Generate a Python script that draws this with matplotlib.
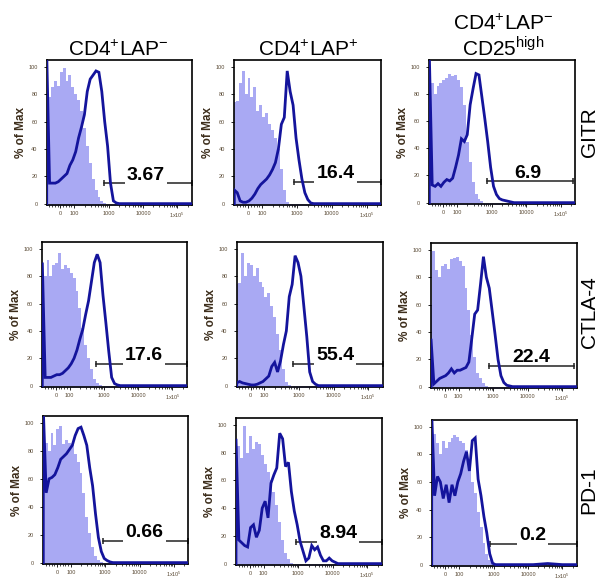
import numpy as np
import matplotlib
matplotlib.use("Agg")
import matplotlib.pyplot as plt
from matplotlib import transforms

plt.rcParams["font.family"] = ["Liberation Sans", "DejaVu Sans"]
plt.rcParams["mathtext.fontset"] = "custom"
plt.rcParams["mathtext.rm"] = "Liberation Sans"
plt.rcParams["mathtext.bf"] = "Liberation Sans:bold"

# channel centres (fluorescence, logicle-like axis)
x_bins = [-100, -79, -58, -37, -16, 5.5, 26.5, 47.6, 68.7, 89.8, 110.6, 134, 163, 198,
          240, 292, 355, 431, 523, 635, 771, 937, 1137, 1381, 1677, 2037, 2474, 3004,
          3649, 4430, 5380, 6534, 7935, 9636, 14213, 37540, 99100, 262144]

# --- GITR ---
gitr_iso_neg = [77, 78, 85, 90, 86, 96, 99, 90, 94, 85, 80, 76, 68, 55, 42, 30, 18, 10, 5, 2,
                0.5, 0, 0, 0, 0, 0, 0, 0, 0, 0, 0, 0, 0, 0, 0, 0, 0, 0]
gitr_neg = [110, 15, 15, 15, 16, 18, 20, 22, 28, 32, 38, 48, 56, 65, 82, 91, 94, 97, 96, 82,
            60, 42, 15, 2, 0.5, 0, 0, 0, 0, 0, 0, 0, 0, 0, 0, 0, 0, 0]
gitr_iso_pos = [74, 75, 88, 97, 80, 92, 78, 85, 68, 72, 63, 66, 58, 54, 48, 40, 25, 10, 1, 0,
                0, 0, 0, 0, 0, 0, 0, 0, 0, 0, 0, 0, 0, 0, 0, 0, 0, 0]
gitr_pos = [10, 8, 2, 1, 1, 2, 4, 7, 11, 14, 16, 18, 21, 25, 30, 40, 58, 63, 97, 82,
            72, 48, 32, 18, 8, 3, 0.5, 0, 0, 0, 0, 0, 0, 0, 0, 0, 0, 0]
gitr_iso_cd25 = [100, 88, 80, 86, 88, 90, 92, 95, 93, 94, 90, 85, 72, 45, 30, 15, 6, 3, 1, 0,
                 0, 0, 0, 0, 0, 0, 0, 0, 0, 0, 0, 0, 0, 0, 0, 0, 0, 0]
gitr_cd25 = [110, 13, 12, 14, 12, 15, 17, 16, 18, 26, 35, 47, 45, 50, 72, 84, 95, 94, 78, 62,
             45, 26, 12, 6, 3, 2, 1.5, 1, 0.5, 0, 0, 0, 0, 0, 0, 0, 0, 0]

# --- CTLA-4 ---
ctla4_iso_neg = [76, 80, 92, 80, 88, 90, 97, 85, 88, 86, 82, 79, 69, 57, 42, 30, 20, 12, 5, 2,
                 0.5, 0, 0, 0, 0, 0, 0, 0, 0, 0, 0, 0, 0, 0, 0, 0, 0, 0]
ctla4_neg = [90, 6, 6, 6, 7, 8, 8, 9, 11, 13, 16, 20, 26, 34, 41, 52, 62, 76, 90, 96,
             90, 66, 46, 25, 6, 1.5, 0.5, 0, 0, 0, 0, 0, 0, 0, 0, 0, 0, 0]
ctla4_iso_pos = [74, 75, 97, 80, 90, 88, 80, 86, 76, 72, 65, 68, 58, 50, 38, 26, 12, 3, 0.5, 0,
                 0, 0, 0, 0, 0, 0, 0, 0, 0, 0, 0, 0, 0, 0, 0, 0, 0, 0]
ctla4_pos = [2, 3, 2, 1.5, 1, 0.5, 0.5, 1, 2, 3, 5, 7, 14, 17, 10, 18, 30, 40, 65, 74,
             95, 90, 80, 58, 36, 10, 3, 1, 0, 0, 0, 0, 0, 0, 0, 0, 0, 0]
ctla4_iso_cd25 = [60, 99, 85, 80, 88, 90, 86, 93, 94, 95, 92, 88, 72, 56, 38, 22, 10, 6, 3, 0.5,
                  0, 0, 0, 0, 0, 0, 0, 0, 0, 0, 0, 0, 0, 0, 0, 0, 0, 0]
ctla4_cd25 = [35, 2, 4, 6, 7, 8, 10, 13, 10, 12, 12, 13, 14, 18, 35, 53, 56, 75, 95, 80,
              72, 55, 38, 20, 8, 3, 1, 0.5, 0, 0, 0, 0, 0, 0, 0, 0, 0, 0]

# --- PD-1 ---
pd1_iso_neg = [100, 86, 80, 93, 84, 96, 98, 85, 88, 86, 84, 78, 72, 64, 50, 33, 21, 11, 5, 2,
               0.5, 0, 0, 0, 0, 0, 0, 0, 0, 0, 0, 0, 0, 0, 0, 0, 0, 0]
pd1_neg = [110, 50, 60, 61, 63, 68, 74, 76, 78, 81, 84, 91, 96, 97, 91, 84, 68, 55, 35, 18,
           8, 3, 1.5, 0.5, 0, 0, 0, 0, 0, 0, 0, 0, 0, 0, 0, 0, 0, 0]
pd1_iso_pos = [90, 85, 76, 99, 80, 92, 83, 88, 86, 78, 72, 66, 60, 52, 42, 30, 17, 8, 3, 0.5,
               0, 0, 0, 0, 0, 0, 0, 0, 0, 0, 0, 0, 0, 0, 0, 0, 0, 0]
pd1_pos = [90, 17, 15, 13, 12, 26, 28, 19, 24, 40, 45, 33, 58, 64, 69, 94, 90, 70, 73, 52,
           38, 28, 16, 9, 2, 4, 13, 10, 12, 6, 2, 2, 4, 2, 0, 0, 0, 0]
pd1_iso_cd25 = [100, 95, 88, 80, 90, 85, 89, 92, 94, 93, 90, 88, 83, 72, 60, 52, 38, 27, 16, 8,
                3, 1, 0, 0, 0, 0, 0, 0, 0, 0, 0, 0, 0, 0, 0, 0, 0, 0]
pd1_cd25 = [110, 50, 64, 60, 48, 58, 45, 58, 50, 60, 66, 75, 82, 68, 90, 92, 62, 50, 35, 23,
            8, 1, 0, 0, 0, 0, 0, 0, 0, 0, 0, 0, 0, 0, 0, 0.8, 0, 0]

col_titles = [r"CD4$^{+}$LAP$^{-}$", r"CD4$^{+}$LAP$^{+}$", r"CD4$^{+}$LAP$^{-}$"]
row_labels = ["GITR", "CTLA-4", "PD-1"]

# gates: start, height, end, percentage
gate_start = [[749, 826, 756], [602, 689, 756], [849, 866, 786]]
gate_y = [[15, 16, 16], [15.9, 15.9, 15.2], [15.5, 15.7, 15.2]]
gate_end = [[262144, 262144, 226000], [262144, 262144, 226000], [262144, 262144, 262144]]
gate_pct = [["3.67", "16.4", "6.9"], ["17.6", "55.4", "22.4"], ["0.66", "8.94", "0.2"]]
gate_text_x = [[0.683, 0.688, 0.678], [0.702, 0.673, 0.686], [0.698, 0.702, 0.694]]
gate_box = [[True, True, False], [True, True, False], [True, True, True]]

fills = [[gitr_iso_neg, gitr_iso_pos, gitr_iso_cd25],
         [ctla4_iso_neg, ctla4_iso_pos, ctla4_iso_cd25],
         [pd1_iso_neg, pd1_iso_pos, pd1_iso_cd25]]
lines = [[gitr_neg, gitr_pos, gitr_cd25],
         [ctla4_neg, ctla4_pos, ctla4_cd25],
         [pd1_neg, pd1_pos, pd1_cd25]]

FILL = "#a9a9f3"
BLUE = "#14149c"
W, H = 604, 582

# panel boxes in pixels: left, top, width, height
panel_px = [[(46.7, 60, 145, 145), (234.3, 60, 147, 145), (429.3, 60, 146, 144)],
            [(42.3, 242, 144.5, 145), (236.7, 242, 146, 145), (431, 243, 145.7, 145)],
            [(43.3, 416, 145, 148), (236, 418, 145.7, 147), (431.7, 420, 145, 146)]]

x_major = [0, 100, 1000, 10000, 100000]
x_major_lab = ["0", "100", "1000", "10000", r"1x10$^{5}$"]
x_minor = [-80, -60, -40, -20, 20, 40, 60, 80, 200, 300, 400, 500, 600, 700, 800, 900,
           2000, 3000, 4000, 5000, 6000, 7000, 8000, 9000,
           20000, 30000, 40000, 50000, 60000, 70000, 80000, 90000, 200000]

fig = plt.figure(figsize=(6.04, 5.82), dpi=100)

xb = np.array(x_bins, dtype=float)
for r in range(3):
    for c in range(3):
        l, t, w, h = panel_px[r][c]
        ax = fig.add_axes([l / W, 1 - (t + h) / H, w / W, h / H])
        ax.set_xscale("symlog", linthresh=100, linscale=0.36)
        ax.set_xlim(-100, 262144)
        ax.set_ylim(-1, 105)

        yf = np.array(fills[r][c], dtype=float)
        ax.fill_between(xb, yf, -2, step="mid", color=FILL, lw=0, zorder=1)
        yl = np.concatenate([[0], lines[r][c]])
        xl = np.concatenate([[xb[0]], xb])
        ax.plot(xl, yl, color=BLUE, lw=2.0, zorder=4, solid_joinstyle="miter")

        gy = gate_y[r][c]
        gx = [gate_start[r][c], gate_end[r][c]]
        ax.plot(gx, [gy, gy], color="#222222", lw=1.1, zorder=2)
        ax.plot(gx, [gy, gy], ls="none", marker="|", ms=5, mew=1.1, color="#222222", zorder=2)
        trans = transforms.blended_transform_factory(ax.transAxes, ax.transData)
        box = dict(facecolor="white", edgecolor="none", pad=1.5) if gate_box[r][c] else None
        ax.text(gate_text_x[r][c], gy + 2.5, gate_pct[r][c], transform=trans, ha="center",
                va="baseline", fontsize=14, fontweight="bold", zorder=3, bbox=box)

        ax.set_xticks(x_major)
        ax.set_xticklabels(x_major_lab)
        ax.set_xticks(x_minor, minor=True)
        ax.set_yticks([0, 20, 40, 60, 80, 100])
        ax.set_yticklabels(["0", "20", "40", "60", "80", "100"])
        ax.tick_params(which="major", length=2.5, width=0.6, labelsize=4,
                       labelcolor="#5a4a35", pad=1.5)
        ax.tick_params(axis="y", pad=4)
        ax.tick_params(which="minor", length=1.5, width=0.5)
        for s in ax.spines.values():
            s.set_linewidth(1.2)
            s.set_color("black")

        fig.text((l - 26) / W, 1 - (t + h / 2) / H, "% of Max", rotation=90, ha="center",
                 va="center", fontsize=8.5, fontweight="bold", color="#3d2e1c")

# column titles
fig.text(118 / W, 1 - 56 / H, col_titles[0], ha="center", va="baseline", fontsize=15)
fig.text(308 / W, 1 - 56 / H, col_titles[1], ha="center", va="baseline", fontsize=15)
fig.text(503 / W, 1 - 30 / H, col_titles[2], ha="center", va="baseline", fontsize=15)
fig.text(503 / W, 1 - 55 / H, r"CD25$^{\mathrm{high}}$", ha="center", va="baseline", fontsize=15)

# row labels on the right
for lab, yc in zip(row_labels, [132, 312, 490]):
    fig.text(589 / W, 1 - yc / H, lab, rotation=90, ha="center", va="center", fontsize=15)

fig.savefig("out.png", dpi=100)
